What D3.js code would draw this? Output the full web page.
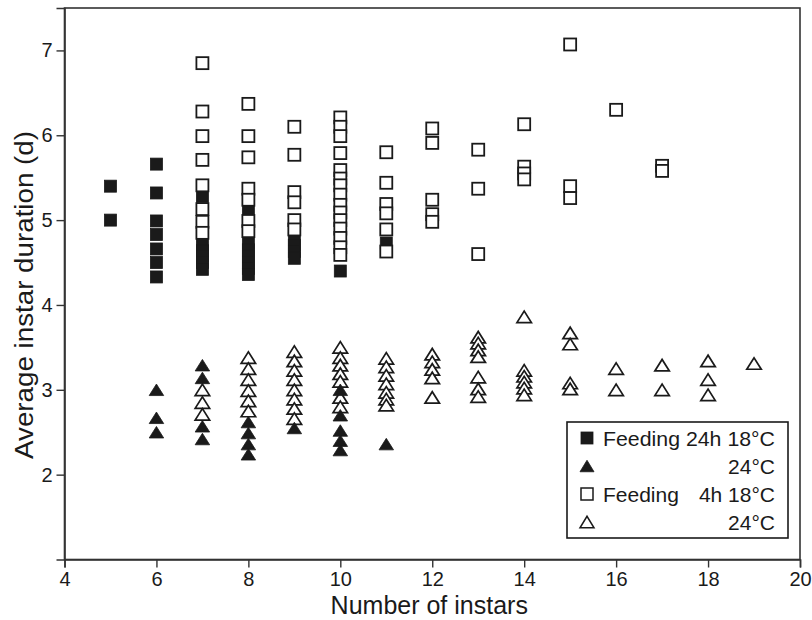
<!DOCTYPE html>
<html>
<head>
<meta charset="utf-8">
<script src="https://cdn.jsdelivr.net/npm/d3@7"></script>
<style>
  html, body { margin: 0; padding: 0; background: #fff; }
  svg { display: block; font-family: "Liberation Sans", Arial, Helvetica, sans-serif; }
</style>
</head>
<body>
<svg id="chart" width="812" height="620"></svg>
<script>
// ---- Data (number of instars, average instar duration in days) ----
const feed24h_18C = [
  [5,5.40],[5,5.00],
  [6,5.66],[6,5.32],[6,4.99],[6,4.83],[6,4.66],[6,4.50],[6,4.33],
  [7,5.28],[7,4.71],[7,4.64],[7,4.57],[7,4.50],[7,4.42],
  [8,5.12],[8,4.73],[8,4.65],[8,4.58],[8,4.50],[8,4.43],[8,4.36],
  [9,4.78],[9,4.70],[9,4.63],[9,4.55],
  [10,4.40],
  [11,4.73]
];
const feed24h_24C = [
  [6,3.00],[6,2.67],[6,2.50],
  [7,3.29],[7,3.14],[7,2.57],[7,2.42],
  [8,2.62],[8,2.49],[8,2.36],[8,2.24],
  [9,2.55],
  [10,3.00],[10,2.70],[10,2.52],[10,2.40],[10,2.29],
  [11,2.36]
];
const feed4h_18C = [
  [7,6.85],[7,6.28],[7,5.99],[7,5.71],[7,5.41],[7,5.13],[7,4.98],[7,4.85],
  [8,6.37],[8,5.99],[8,5.74],[8,5.37],[8,5.24],[8,4.99],[8,4.87],
  [9,6.10],[9,5.77],[9,5.33],[9,5.21],[9,5.00],[9,4.89],
  [10,6.21],[10,6.10],[10,5.99],[10,5.79],[10,5.59],[10,5.49],[10,5.41],[10,5.30],
  [10,5.18],[10,5.09],[10,5.00],[10,4.90],[10,4.79],[10,4.68],[10,4.59],
  [11,5.80],[11,5.44],[11,5.19],[11,5.08],[11,4.89],[11,4.63],
  [12,6.08],[12,5.91],[12,5.24],[12,5.07],[12,4.98],
  [13,5.83],[13,5.37],[13,4.60],
  [14,6.13],[14,5.63],[14,5.55],[14,5.48],
  [15,7.07],[15,5.40],[15,5.26],
  [16,6.30],
  [17,5.64],[17,5.58]
];
const feed4h_24C = [
  [7,3.00],[7,2.85],[7,2.71],
  [8,3.38],[8,3.25],[8,3.12],[8,2.99],[8,2.87],[8,2.75],
  [9,3.45],[9,3.34],[9,3.23],[9,3.12],[9,3.00],[9,2.89],[9,2.78],[9,2.66],
  [10,3.50],[10,3.38],[10,3.29],[10,3.19],[10,3.10],[10,2.91],[10,2.80],
  [11,3.37],[11,3.27],[11,3.17],[11,3.07],[11,2.97],[11,2.89],[11,2.82],
  [12,3.42],[12,3.33],[12,3.24],[12,3.14],[12,2.91],
  [13,3.62],[13,3.55],[13,3.47],[13,3.39],[13,3.15],[13,3.01],[13,2.92],
  [14,3.86],[14,3.23],[14,3.16],[14,3.09],[14,3.02],[14,2.94],
  [15,3.67],[15,3.54],[15,3.08],[15,3.01],
  [16,3.25],[16,3.00],
  [17,3.29],[17,3.00],
  [18,3.34],[18,3.12],[18,2.94],
  [19,3.31]
];
const xTicks = [4, 6, 8, 10, 12, 14, 16, 18, 20];
const yTicks = [2, 3, 4, 5, 6, 7];
const xTitle = "Number of instars";
const yTitle = "Average instar duration (d)";
const legendRows = [
  {label: "Feeding 24h 18°C", shape: "square", filled: true},
  {label: "24°C", shape: "triangle", filled: true},
  {label: "Feeding", label2: "4h 18°C", shape: "square", filled: false},
  {label: "24°C", shape: "triangle", filled: false}
];

// ---- Layout ----
const svg = d3.select("#chart");
const L = 64.5, R = 800, T = 8, B = 559.5;
const x = d3.scaleLinear().domain([4, 20]).range([L, R]);
const y = d3.scaleLinear().domain([1, 7.5]).range([B, T]);
const ink = "#1a1a1a";

// frame
svg.append("rect").attr("x", L).attr("y", T).attr("width", R - L).attr("height", B - T)
  .attr("fill", "none").attr("stroke", "#333").attr("stroke-width", 1.6);

// axes
const xAxis = svg.append("g").attr("transform", `translate(0,${B})`)
  .call(d3.axisBottom(x).tickValues(xTicks).tickSize(8).tickPadding(4).tickFormat(d3.format("d")));
const yAxis = svg.append("g").attr("transform", `translate(${L},0)`)
  .call(d3.axisLeft(y).tickValues(yTicks).tickSize(8).tickPadding(4).tickFormat(d3.format("d")));
[xAxis, yAxis].forEach(g => {
  g.attr("font-size", 20).attr("font-family", '"Liberation Sans", Arial, sans-serif');
  g.select(".domain").attr("stroke", "#333").attr("stroke-width", 1.6);
  g.selectAll(".tick line").attr("stroke", "#333").attr("stroke-width", 1.4);
  g.selectAll(".tick text").attr("fill", ink);
});

svg.append("text").attr("x", (L + R) / 2 - 3).attr("y", 614).attr("text-anchor", "middle")
  .attr("fill", ink).style("font-size", "25px").text(xTitle);
svg.append("text").attr("transform", `translate(33,${295}) rotate(-90)`).attr("text-anchor", "middle")
  .attr("fill", ink).style("font-size", "26px").attr("textLength", 328).attr("lengthAdjust", "spacingAndGlyphs").text(yTitle);

// ---- marks ----
const sqSize = 12;
const triPath = (cx, cy, w, h) => `M${cx - w/2},${cy + h/2} L${cx + w/2},${cy + h/2} L${cx},${cy - h/2} Z`;
const triW = 14.5, triH = 11.5;

function drawSquares(data, filled, cls) {
  svg.append("g").attr("class", cls).selectAll("rect").data(data).join("rect")
    .attr("x", d => x(d[0]) - sqSize / 2).attr("y", d => y(d[1]) - sqSize / 2)
    .attr("width", sqSize).attr("height", sqSize)
    .attr("fill", filled ? ink : "#fff")
    .attr("stroke", ink).attr("stroke-width", filled ? 0.8 : 1.8);
}
function drawTriangles(data, filled, cls) {
  svg.append("g").attr("class", cls).selectAll("path").data(data).join("path")
    .attr("d", d => triPath(x(d[0]), y(d[1]), triW, triH))
    .attr("fill", filled ? ink : "#fff")
    .attr("stroke", ink).attr("stroke-width", filled ? 0.8 : 1.7).attr("stroke-linejoin", "miter");
}
drawSquares(feed24h_18C, true, "s24");
drawSquares(feed4h_18C, false, "s4");
drawTriangles(feed4h_24C, false, "t4");
drawTriangles(feed24h_24C, true, "t24");

// ---- legend ----
const lg = svg.append("g");
lg.append("rect").attr("x", 567).attr("y", 422).attr("width", 221).attr("height", 116)
  .attr("fill", "#fff").attr("stroke", ink).attr("stroke-width", 1.6);
const rowY = [438, 466, 494, 522];
legendRows.forEach((r, i) => {
  const cy = rowY[i];
  if (r.shape === "square") {
    lg.append("rect").attr("x", 587 - 6).attr("y", cy - 6).attr("width", 12).attr("height", 12)
      .attr("fill", r.filled ? ink : "#fff").attr("stroke", ink).attr("stroke-width", r.filled ? 0.8 : 1.5);
  } else {
    lg.append("path").attr("d", triPath(587, cy, 14, 11.5))
      .attr("fill", r.filled ? ink : "#fff").attr("stroke", ink).attr("stroke-width", r.filled ? 0.8 : 1.5);
  }
  if (i === 0) {
    lg.append("text").attr("x", 603).attr("y", cy + 7.5).attr("fill", ink)
      .style("font-size", "21px").attr("textLength", 172).attr("lengthAdjust", "spacingAndGlyphs").text(r.label);
  } else if (r.label2) {
    lg.append("text").attr("x", 603).attr("y", cy + 7.5).attr("fill", ink)
      .style("font-size", "21px").text(r.label);
    lg.append("text").attr("x", 775).attr("y", cy + 7.5).attr("text-anchor", "end").attr("fill", ink)
      .style("font-size", "21px").text(r.label2);
  } else {
    lg.append("text").attr("x", 775).attr("y", cy + 7.5).attr("text-anchor", "end").attr("fill", ink)
      .style("font-size", "21px").text(r.label);
  }
});
</script>
</body>
</html>
